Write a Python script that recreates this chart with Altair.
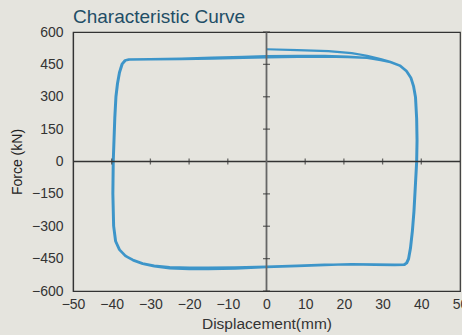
import altair as alt
import pandas as pd

# Hysteresis data (displacement mm, force kN)
start_x = [0, 8, 16, 22, 26, 29.5]
start_f = [520, 516, 511, 502, 490, 475]

loop1_x = [32, 34.5, 36.2, 37.3, 38.0, 38.5, 38.8, 38.9, 38.8, 38.5,
           38.1, 37.7, 37.2, 36.7, 36.2, 35.6, 33, 28, 22, 15,
           8, 0, -8, -15, -20, -25, -29, -32, -34.5, -36.5,
           -38, -39, -39.5, -39.7, -39.6, -39.4, -39.2, -38.9, -38.5, -38.0,
           -37.3, -36.5, -35.5, -30, -22, -14, -6, 0, 8, 15,
           21, 26, 29.5]
loop1_f = [462, 445, 420, 390, 350, 300, 200, 100, 0, -100,
           -230, -320, -400, -450, -470, -478, -479, -478, -476, -480,
           -485, -490, -496, -499, -499, -495, -486, -475, -458, -438,
           -410, -370, -300, -150, 0, 100, 200, 300, 360, 410,
           450, 468, 472, 473, 474, 477, 480, 482, 485, 486,
           484, 480, 470]

loop2_x = [32, 34.6, 36.3, 37.4, 38.1, 38.6, 38.9, 39.0, 38.9, 38.6,
           38.2, 37.8, 37.3, 36.8, 36.3, 35.7, 33, 28, 22, 15,
           8, 0, -8, -15, -20, -25, -29, -32, -34.5, -36.6,
           -38.1, -39.1, -39.6, -39.8, -39.7, -39.5, -39.3, -39.0, -38.6, -38.1,
           -37.4, -36.6, -35.6, -30, -22, -14, -6, 0, 8, 15,
           21, 26, 29.5]
loop2_f = [460, 443, 418, 388, 348, 298, 198, 98, -2, -102,
           -232, -322, -402, -452, -471, -479, -480, -479, -477, -478,
           -482, -487, -490, -492, -492, -489, -482, -472, -455, -435,
           -408, -368, -298, -148, 2, 102, 202, 302, 362, 412,
           452, 469, 473, 475, 477, 481, 485, 488, 490, 489,
           486, 480, 469]

loop3_x = [32, 34.4, 36.1, 37.2, 37.9, 38.4, 38.7, 38.8, 38.7, 38.4,
           38.0, 37.6, 37.1, 36.6, 36.1, 35.5, 33, 28, 22, 15,
           8, 0, -8, -15, -20, -25, -29, -32, -34.5, -36.4,
           -37.9, -38.9, -39.4, -39.6, -39.5, -39.3, -39.1, -38.8, -38.4, -37.9,
           -37.2, -36.4, -35.4, -30, -22, -14, -6, 0, 8, 15,
           21, 26, 29.5, 32, 34.5]
loop3_f = [461, 444, 419, 389, 349, 299, 199, 99, -1, -101,
           -231, -321, -401, -451, -470, -477, -478, -477, -475, -479,
           -484, -489, -494, -497, -497, -493, -485, -474, -457, -437,
           -409, -369, -299, -149, 1, 101, 201, 301, 361, 411,
           451, 468, 472, 474, 476, 479, 483, 485, 487, 487,
           485, 480, 470, 461, 445]

x_ticks = [-50, -40, -30, -20, -10, 0, 10, 20, 30, 40, 50]
y_ticks = [-600, -450, -300, -150, 0, 150, 300, 450, 600]
zero_x_marks = [-40, -30, -20, -10, 10, 20, 30, 40]
zero_y_marks = [-600, -450, -300, -150, 150, 300, 450, 600]

xs = start_x + loop1_x + loop2_x + loop3_x
fs = start_f + loop1_f + loop2_f + loop3_f
df = pd.DataFrame({"disp": xs, "force": fs, "i": list(range(len(xs)))})

FONT = "Liberation Sans"
xscale = alt.Scale(domain=[-50, 50], nice=False)
yscale = alt.Scale(domain=[-600, 600], nice=False)

xaxis = alt.Axis(values=x_ticks, grid=False, ticks=False, labelPadding=6,
                 labelFontSize=14, labelColor="#333333", labelFont=FONT,
                 labelOverlap=False, labelBound=False, labelFlush=False,
                 titleFont=FONT, titleFontSize=15.5, titleFontWeight="normal",
                 titleColor="#333333", titlePadding=5,
                 domainColor="#333333", domainWidth=1.2)
yaxis = alt.Axis(values=y_ticks, grid=False, ticks=False, labelPadding=10,
                 labelFontSize=14, labelColor="#333333", labelFont=FONT,
                 labelOverlap=False, labelBound=False, labelFlush=False,
                 titleFont=FONT, titleFontSize=14, titleFontWeight="normal",
                 titleColor="#222222", titlePadding=7,
                 domainColor="#333333", domainWidth=1.2)

XT = "Displacement(mm)"
YT = "Force (kN)"

curve = alt.Chart(df).mark_line(
    color="#2a8cc6", strokeWidth=2.2, strokeJoin="round", opacity=0.9, clip=True
).encode(
    x=alt.X("disp:Q", scale=xscale, title=XT, axis=xaxis),
    y=alt.Y("force:Q", scale=yscale, title=YT, axis=yaxis),
    order=alt.Order("i:Q"),
)

hline = alt.Chart(pd.DataFrame({"force": [0]})).mark_rule(
    color="#333333", strokeWidth=1.4
).encode(y=alt.Y("force:Q", scale=yscale, title=YT, axis=yaxis))

vline = alt.Chart(pd.DataFrame({"disp": [0]})).mark_rule(
    color="#666666", strokeWidth=1.8
).encode(x=alt.X("disp:Q", scale=xscale, title=XT, axis=xaxis))

xmarks = alt.Chart(pd.DataFrame({"disp": zero_x_marks, "force": [0] * len(zero_x_marks)})).mark_tick(
    color="#333333", size=6, thickness=1.3, orient="vertical"
).encode(x=alt.X("disp:Q", scale=xscale, title=XT, axis=xaxis),
         y=alt.Y("force:Q", scale=yscale, title=YT, axis=yaxis))

ymarks = alt.Chart(pd.DataFrame({"force": zero_y_marks, "disp": [0] * len(zero_y_marks)})).mark_tick(
    color="#333333", size=7, thickness=1.3, orient="horizontal"
).encode(x=alt.X("disp:Q", scale=xscale, title=XT, axis=xaxis),
         y=alt.Y("force:Q", scale=yscale, title=YT, axis=yaxis))

chart = alt.layer(curve, hline, vline, xmarks, ymarks).properties(
    width=387,
    height=259,
    autosize=alt.AutoSizeParams(type="none"),
    padding={"left": 73, "top": 32, "right": 2, "bottom": 44},
    background="#e5e4de",
    title=alt.Title("Characteristic Curve", anchor="start", font=FONT, fontSize=19,
                    fontWeight="normal", color="#1f4e66", offset=0, dy=17,
                    frame="group", baseline="alphabetic"),
).configure_view(stroke="#333333", strokeWidth=1.2)

chart.save("out.html", embed_options={"renderer": "svg", "actions": False})
